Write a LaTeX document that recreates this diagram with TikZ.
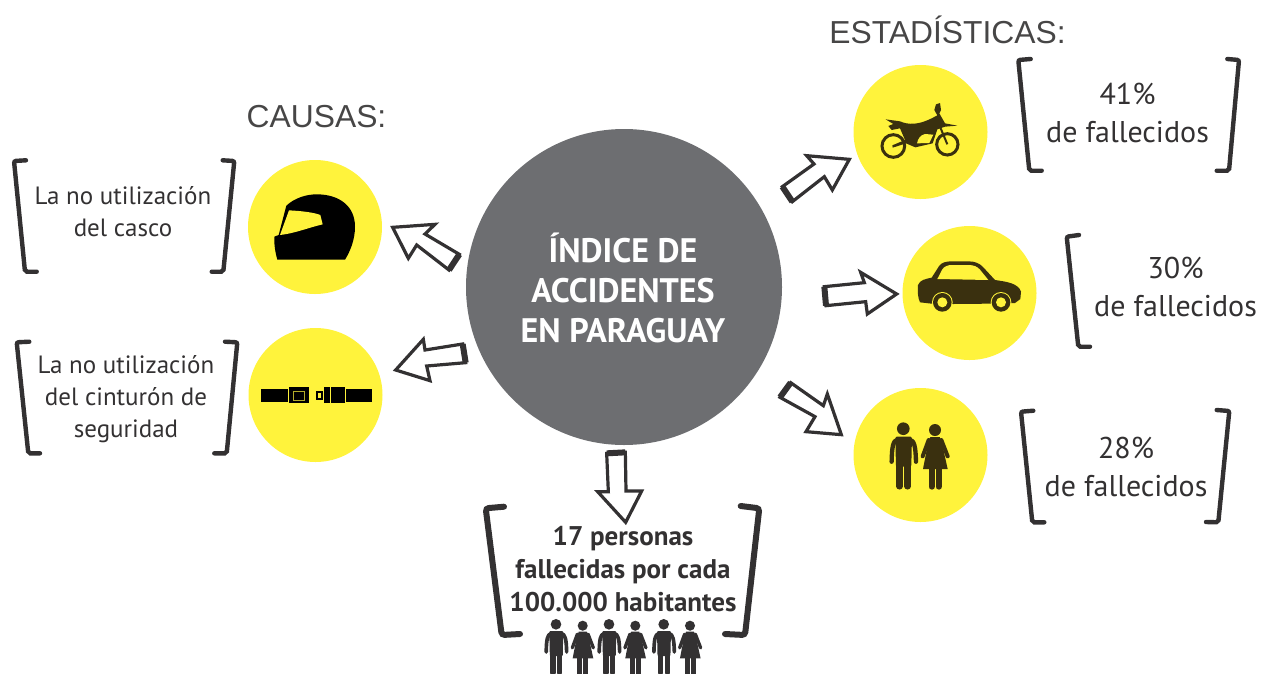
\documentclass[tikz,border=0pt]{standalone}
\usepackage{fontspec}
\setmainfont{PT Sans}
\newfontfamily\arialfont{Liberation Sans}
\definecolor{circY}{HTML}{FFF33C}
\definecolor{hubG}{HTML}{6D6E71}
\definecolor{inkD}{HTML}{333132}
\definecolor{iconD}{HTML}{3A300F}
\newcommand\manicon[4]{%
\begin{scope}[shift={(#1-160*#3,#2-116*#3)},scale=#3,line cap=round,line join=round,#4]
\fill (160,116) circle (19);
\fill[rounded corners=4*#3 pt] (136,140) -- (186,140) -- (184,230) -- (138,230) -- cycle;
\draw[line width=#3*19pt] (149,225) -- (149,289);
\draw[line width=#3*19pt] (173,225) -- (173,289);
\draw[line width=#3*13pt] (143,149) .. controls (129,151) and (126,170) .. (125,215);
\draw[line width=#3*13pt] (179,149) .. controls (193,151) and (197,170) .. (198,215);
\end{scope}}
\newcommand\womanicon[4]{%
\begin{scope}[shift={(#1-255*#3,#2-120*#3)},scale=#3,line cap=round,line join=round,#4]
\fill (255,120) circle (18);
\fill (241,141) -- (269,141) -- (276,160) -- (293,237) -- (219,237) -- (234,160) -- cycle;
\draw[line width=#3*18pt] (245,232) -- (245,290);
\draw[line width=#3*18pt] (266,232) -- (266,290);
\draw[line width=#3*12pt] (236,150) -- (218,199);
\draw[line width=#3*12pt] (274,150) -- (293,199);
\end{scope}}
\newcommand\blockarrow[4]{%
\begin{scope}[shift={(#1,#2)},scale=1/3]
\draw[arrowline] #3 -- cycle;
\draw[line width=6pt,inkD] #4;
\end{scope}}
\tikzset{
  x=1pt,y=-1pt,
  disc/.style={circle,fill=circY,minimum size=134pt,inner sep=0pt,draw=none},
  arrowline/.style={draw=inkD,line width=3.2pt,line join=miter,miter limit=10,fill=white},
  bracketline/.style={draw=inkD,line width=4.4pt,line cap=round,rounded corners=2pt},
  bigbracket/.style={draw=inkD,line width=6pt,line cap=round,rounded corners=3pt},
  bodytext/.style={text=inkD,align=center,inner sep=0pt,font=\fontsize{30}{38.5}\selectfont},
  smalltext/.style={text=inkD,align=center,inner sep=0pt,font=\fontsize{25}{32}\selectfont},
  headtext/.style={text=inkD!90!white,inner sep=0pt,font=\arialfont\fontsize{31.8}{36}\selectfont},
}
\begin{document}
\begin{tikzpicture}
\useasboundingbox (0,0) rectangle (1261,673);
% circles
\node[circle,fill=hubG,minimum size=316pt,inner sep=0pt] (hub) at (624,287) {};
\node[disc] (moto) at (920.5,132) {};
\node[disc] (car) at (969.5,293) {};
\node[disc] (helmet) at (315,227) {};
\node[disc] (belt) at (315.5,395) {};
\node[disc] (people) at (920.5,455) {};
% helmet
\begin{scope}[shift={(245,155)},scale=1/3]
\fill[black] (97,314) .. controls (90,290) and (87,265) .. (88,245) -- (101,240) -- (124,152)
  .. controls (150,128) and (185,118) .. (215,118) .. controls (285,118) and (330,155) .. (330,215)
  .. controls (330,255) and (315,290) .. (300,314) -- cycle;
\fill[circY] (132,166) .. controls (170,168) and (205,172) .. (226,180) -- (233,208)
  .. controls (190,218) and (150,235) .. (105,240) -- cycle;
\end{scope}
% motorcycle
\begin{scope}[shift={(850,60)},scale=1/3]
\draw[iconD,line width=3pt] (130,258) circle (34);
\draw[iconD,line width=3pt] (292,253) circle (32);
\fill[iconD] (107,178) -- (150,184) .. controls (175,195) and (205,195) .. (245,175) -- (262,166)
  -- (253,150) -- (258,133) -- (270,129) -- (273,150) -- (268,160) -- (285,190) -- (322,197) -- (285,200)
  -- (262,208) -- (248,250) -- (196,262) -- (168,250) -- (128,263) -- (127,256) -- (165,240)
  -- (150,205) -- (125,210) -- (115,198) -- (130,192) -- cycle;
\fill[circY] (201,250) .. controls (204,235) and (212,225) .. (225,222) -- (250,224) -- (238,249) -- cycle;
\draw[iconD,line width=2pt] (270,200) -- (292,253);
\end{scope}
% car
\begin{scope}[shift={(900,225)},scale=1/3]
\fill[iconD] (54,180) .. controls (60,165) and (75,162) .. (95,158) -- (118,122)
 .. controls (125,112) and (140,109) .. (155,109) -- (205,109) .. controls (225,109) and (238,115) .. (248,125)
 -- (285,165) .. controls (320,170) and (355,175) .. (363,200) -- (361,222) -- (345,234) -- (270,236)
 -- (160,237) -- (95,236) -- (60,232) .. controls (54,220) and (52,200) .. (54,180) -- cycle;
\fill[circY] (112,162) -- (127,133) .. controls (132,124) and (145,120) .. (155,120) -- (205,120)
 .. controls (222,120) and (232,125) .. (240,134) -- (265,165) -- cycle;
\foreach \wx in {127,303}{
 \fill[circY] (\wx,232) circle (31);
 \fill[iconD] (\wx,232) circle (28);
 \fill[circY] (\wx,232) circle (15);
}
\end{scope}
% belt
\begin{scope}[shift={(245,330)},scale=1/3]
\fill[black] (47,178) rectangle (128,215);
\fill[black] (131,172) rectangle (192,220);
\draw[circY!70!black,line width=1pt] (145,183) rectangle (178,210);
\fill[black] (212,182) rectangle (235,210);
\fill[circY] (219,190) rectangle (227,203);
\fill[black] (238,172) rectangle (255,220);
\fill[black] (259,172) rectangle (300,220);
\fill[black] (303,178) rectangle (381,215);
\end{scope}
% people
\manicon{903.3}{428.7}{1/3}{iconD}
\womanicon{935}{430}{1/3}{iconD}
% arrows
\blockarrow{380}{210}{(38,52) -- (165,43) -- (135,72) -- (238,133) -- (207,180) -- (110,105) -- (85,145)}{(238,133) -- (207,180)}
\blockarrow{380}{210}{(47,480) -- (130,388) -- (135,420) -- (248,402) -- (257,458) -- (140,468) -- (150,512)}{(248,402) -- (257,458)}
\blockarrow{770}{140}{(238,58) -- (110,47) -- (132,72) -- (37,140) -- (67,185) -- (163,110) -- (187,150)}{(37,140) -- (67,185)}
\blockarrow{770}{140}{(380,462) -- (272,397) -- (283,428) -- (163,440) -- (168,497) -- (287,485) -- (292,522)}{(163,440) -- (168,497)}
\blockarrow{770}{140}{(214,884) -- (172,762) -- (160,797) -- (62,728) -- (30,772) -- (135,830) -- (108,875)}{(62,728) -- (30,772)}
\blockarrow{480}{440}{(437,247) -- (485,153) -- (438,153) -- (436,37) -- (380,40) -- (385,155) -- (353,155)}{(436,37) -- (380,40)}
% brackets
\draw[bracketline] (26,160.3) -- (14,161) -- (25,271.7) -- (36.7,271.7);
\draw[bracketline] (222.7,160.3) -- (234.3,161) -- (223.3,271.7) -- (211.7,271.7);
\draw[bracketline] (29.3,341.7) -- (16.7,342.3) -- (28.3,453.3) -- (40,453.3);
\draw[bracketline] (225,341.7) -- (237.3,342.3) -- (226.7,453.3) -- (214.3,453.3);
\draw[bracketline] (1030.7,59) -- (1018.3,60) -- (1029.3,170.7) -- (1041.7,170.7);
\draw[bracketline] (1227.3,59) -- (1239,60) -- (1229,170.7) -- (1216.7,170.7);
\draw[bracketline] (1079,235) -- (1066.7,236.7) -- (1078.3,346.7) -- (1090,346.7);
\draw[bracketline] (1033.3,410.7) -- (1021,411.7) -- (1032.3,522.3) -- (1044.3,522.3);
\draw[bracketline] (1216.7,410) -- (1229.3,411) -- (1218.3,522.3) -- (1206,522);
\draw[bigbracket] (504,506.7) -- (485.7,508.3) -- (501.7,635) -- (520,634);
\draw[bigbracket] (740.7,506) -- (759.3,508.3) -- (745,635) -- (725,634);
% small people
\manicon{556}{624.3}{0.28}{inkD}
\womanicon{582.7}{625.7}{0.28}{inkD}
\manicon{609}{624.3}{0.28}{inkD}
\womanicon{635.3}{625.7}{0.28}{inkD}
\manicon{663.7}{624.3}{0.28}{inkD}
\womanicon{690}{625.7}{0.28}{inkD}
% text
\node[headtext] (causas) at (316.5,117) {CAUSAS:};
\node[headtext] (estad) at (947.5,30) {ESTADÍSTICAS:};
\node[white,align=center,inner sep=0pt,font=\bfseries\fontsize{34}{40}\selectfont] (hubtext) at (623,288) {ÍNDICE DE\\ACCIDENTES\\EN PARAGUAY};
\node[smalltext] (t1) at (123,212) {La no utilización\\del casco};
\node[smalltext] (t2) at (126,399) {La no utilización\\del cinturón de\\seguridad};
\node[bodytext] (t3) at (1127.5,113) {41\%\\de fallecidos};
\node[bodytext] (t4) at (1175.5,287) {30\%\\de fallecidos};
\node[bodytext] (t5) at (1126,467) {28\%\\de fallecidos};
\node[text=inkD,align=center,inner sep=0pt,font=\bfseries\fontsize{27}{33}\selectfont] (t6) at (623,569) {17 personas\\fallecidas por cada\\100.000 habitantes};
\end{tikzpicture}
\end{document}
